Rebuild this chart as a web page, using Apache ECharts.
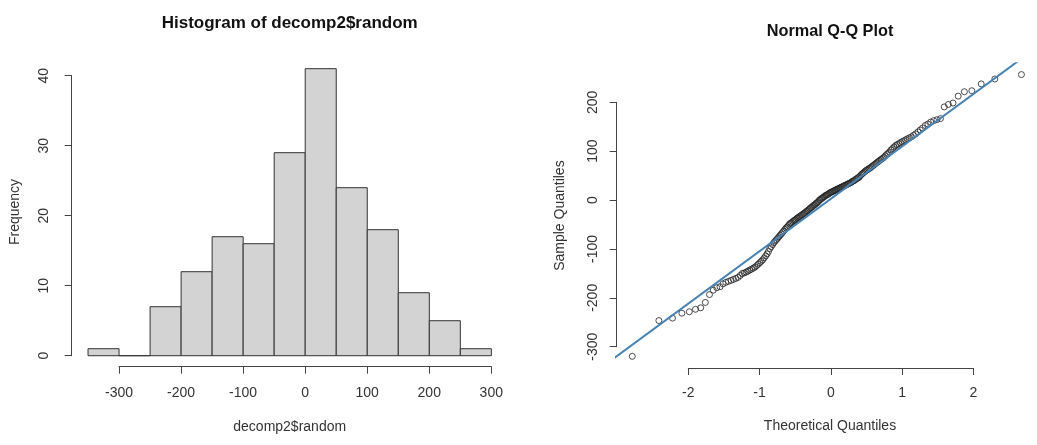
<!DOCTYPE html>
<html><head><meta charset="utf-8">
<script src="https://cdn.jsdelivr.net/npm/echarts@6/dist/echarts.min.js"></script>
<style>html,body{margin:0;padding:0;background:#fff}#c{width:1037px;height:445px}</style>
</head><body><div id="c"></div>
<script>
// ---------- Histogram data ----------
const binEdges = [-350,-300,-250,-200,-150,-100,-50,0,50,100,150,200,250,300];
const binCounts = [1,0,7,12,17,16,29,41,24,18,9,5,1];
const histXTicks = [-300,-200,-100,0,100,200,300];
const histYTicks = [0,10,20,30,40];

// ---------- Normal Q-Q data (sorted) ----------
const theoretical = [
-2.773,-2.394,-2.200,-2.066,-1.960,-1.872,-1.798,-1.732,-1.673,-1.619,
-1.569,-1.523,-1.480,-1.440,-1.402,-1.365,-1.331,-1.298,-1.266,-1.235,
-1.206,-1.178,-1.150,-1.124,-1.098,-1.073,-1.048,-1.025,-1.001,-0.979,
-0.956,-0.935,-0.913,-0.893,-0.872,-0.852,-0.832,-0.812,-0.793,-0.774,
-0.755,-0.737,-0.719,-0.701,-0.683,-0.666,-0.648,-0.631,-0.614,-0.598,
-0.581,-0.565,-0.548,-0.532,-0.516,-0.501,-0.485,-0.469,-0.454,-0.439,
-0.423,-0.408,-0.393,-0.378,-0.363,-0.349,-0.334,-0.319,-0.305,-0.290,
-0.276,-0.261,-0.247,-0.233,-0.218,-0.204,-0.189,-0.175,-0.161,-0.147,
-0.133,-0.119,-0.105,-0.091,-0.077,-0.063,-0.049,-0.035,-0.021,-0.007,
0.007,0.021,0.035,0.049,0.063,0.077,0.091,0.105,0.119,0.133,
0.147,0.161,0.175,0.189,0.204,0.218,0.233,0.247,0.261,0.276,
0.290,0.305,0.319,0.334,0.349,0.363,0.378,0.393,0.408,0.423,
0.439,0.454,0.469,0.485,0.501,0.516,0.532,0.548,0.565,0.581,
0.598,0.614,0.631,0.648,0.666,0.683,0.701,0.719,0.737,0.755,
0.774,0.793,0.812,0.832,0.852,0.872,0.893,0.913,0.935,0.956,
0.979,1.001,1.025,1.048,1.073,1.098,1.124,1.150,1.178,1.206,
1.235,1.266,1.298,1.331,1.365,1.402,1.440,1.480,1.523,1.569,
1.619,1.673,1.732,1.798,1.872,1.960,2.066,2.200,2.394,2.773
];
const sample = [
-318,-245,-240,-230,-227,-222,-219,-208,
-192,-183,-178,-176,-170,-167,-165,-163,-161,-159,-157,-153,
-149,-148,-146,-144,-142,-140,-138,-136,-133,-130,-127,-124,-121,-117,-113,-109,-104,
-98,-94,-90,-86,-83,-80,-77,-74,-71,-68,-65,-62,-59,-56,-54,-51,
-48,-46,-45,-43,-41,-40,-38,-36,-35,-33,-32,-30,-29,-27,-26,-24,-22,-21,-19,-17,-15,-14,-12,-10,-9,-7,-5,-4,-2,
1,2,4,5,7,8,10,11,12,13,15,16,17,18,19,20,21,22,23,24,25,26,27,28,29,30,31,32,33,34,35,36,37,39,40,41,43,44,46,47,49,
52,54,56,58,60,62,63,65,66,68,70,72,74,76,78,80,82,84,86,88,91,94,96,99,
103,106,109,112,114,116,118,120,122,124,126,128,130,133,136,140,144,148,
153,156,160,163,165,167,191,196,199,
213,222,224,238,248,
257
];
const qqXTicks = [-2,-1,0,1,2];
const qqYTicks = [-300,-200,-100,0,100,200];
const qqLineIntercept = -2.6;
const qqLineSlope = 105.3;

// ---------- build ----------
const FONT = "'Liberation Sans', Arial, sans-serif";
const TXT = '#333';
const AX = '#444';

const histData = binCounts.map((c, i) => [binEdges[i], binEdges[i+1], c]);
const qqData = theoretical.map((t, i) => [t, sample[i]]);
const lineX = [-3.2, 3.2];
const qqLineData = lineX.map(x => [x, qqLineIntercept + qqLineSlope * x]);

function hiddenX(grid, min, max){ return {type:'value', gridIndex:grid, min, max, show:false}; }
function hiddenY(grid, min, max){ return {type:'value', gridIndex:grid, min, max, show:false}; }
function shownX(grid, ticks, margin){
  return {type:'value', gridIndex:grid, position:'bottom', min:ticks[0], max:ticks[ticks.length-1],
    interval:ticks[1]-ticks[0], splitLine:{show:false},
    axisLine:{show:true, onZero:false, lineStyle:{color:AX, width:1}},
    axisTick:{show:true, length:7, lineStyle:{color:AX, width:1}},
    axisLabel:{show:true, margin, color:TXT, fontSize:14, fontFamily:FONT, showMinLabel:true, showMaxLabel:true}};
}
function shownY(grid, ticks, margin){
  return {type:'value', gridIndex:grid, position:'left', min:ticks[0], max:ticks[ticks.length-1],
    interval:ticks[1]-ticks[0], splitLine:{show:false},
    axisLine:{show:true, onZero:false, lineStyle:{color:AX, width:1}},
    axisTick:{show:true, length:7, lineStyle:{color:AX, width:1}},
    axisLabel:{show:true, rotate:90, margin, color:TXT, fontSize:14, fontFamily:FONT, showMinLabel:true, showMaxLabel:true}};
}

const chart = echarts.init(document.getElementById('c'), null, {renderer:'canvas'});
chart.setOption({
  animation:false,
  backgroundColor:'#fff',
  grid:[
    {left:71.9, top:57.2, width:435.6, height:310},      // 0 hist plot region
    {left:119, top:340, width:372.3, height:26.7},       // 1 hist x axis
    {left:71.7, top:75.7, width:20, height:280},         // 2 hist y axis
    {left:616.7, top:63.3, width:427.2, height:304.3},   // 3 qq plot region
    {left:688.3, top:340, width:285, height:28},         // 4 qq x axis
    {left:616.7, top:102.3, width:20, height:244.4}      // 5 qq y axis
  ],
  xAxis:[
    hiddenX(0, -376, 326),
    shownX(1, histXTicks, 19),
    hiddenX(2, 0, 1),
    hiddenX(3, -2.995, 2.995),
    shownX(4, qqXTicks, 18),
    hiddenX(5, 0, 1)
  ],
  yAxis:[
    hiddenY(0, -1.64, 42.64),
    hiddenY(1, 0, 1),
    shownY(2, histYTicks, 21),
    hiddenY(3, -341, 280),
    hiddenY(4, 0, 1),
    shownY(5, qqYTicks, 17)
  ],
  series:[
    {
      type:'custom', xAxisIndex:0, yAxisIndex:0, data:histData,
      encode:{x:[0,1], y:2}, silent:true,
      renderItem:(params, api) => {
        const lo = api.value(0), hi = api.value(1), n = api.value(2);
        const p0 = api.coord([lo, n]);
        const p1 = api.coord([hi, 0]);
        return {type:'rect',
          shape:{x:p0[0], y:p0[1], width:p1[0]-p0[0], height:p1[1]-p0[1]},
          style:{fill:'#d3d3d3', stroke:'#333', lineWidth:1}};
      }
    },
    {
      type:'scatter', xAxisIndex:3, yAxisIndex:3, data:qqData, silent:true,
      symbol:'circle', symbolSize:6,
      itemStyle:{color:'rgba(0,0,0,0)', borderColor:'#222', borderWidth:1}
    },
    {
      type:'line', xAxisIndex:3, yAxisIndex:3, data:qqLineData, silent:true,
      showSymbol:false, clip:true,
      lineStyle:{color:'#4682b4', width:2}
    }
  ],
  graphic:[
    {type:'text', x:289.7, y:23.3, silent:true,
      style:{text:'Histogram of decomp2$random', font:'bold 17px '+FONT, fill:'#111',
        align:'center', verticalAlign:'middle', textAlign:'center', textVerticalAlign:'middle'}},
    {type:'text', x:830, y:31.7, silent:true,
      style:{text:'Normal Q-Q Plot', font:'bold 16.3px '+FONT, fill:'#111',
        align:'center', verticalAlign:'middle', textAlign:'center', textVerticalAlign:'middle'}},
    {type:'text', x:289.7, y:426.7, silent:true,
      style:{text:'decomp2$random', font:'14px '+FONT, fill:TXT,
        align:'center', verticalAlign:'middle', textAlign:'center', textVerticalAlign:'middle'}},
    {type:'text', x:830, y:426, silent:true,
      style:{text:'Theoretical Quantiles', font:'14px '+FONT, fill:TXT,
        align:'center', verticalAlign:'middle', textAlign:'center', textVerticalAlign:'middle'}},
    {type:'text', x:15, y:212, rotation:Math.PI/2, silent:true,
      style:{text:'Frequency', font:'14px '+FONT, fill:TXT,
        align:'center', verticalAlign:'middle', textAlign:'center', textVerticalAlign:'middle'}},
    {type:'text', x:560, y:215.6, rotation:Math.PI/2, silent:true,
      style:{text:'Sample Quantiles', font:'14px '+FONT, fill:TXT,
        align:'center', verticalAlign:'middle', textAlign:'center', textVerticalAlign:'middle'}}
  ]
});
</script>
</body></html>
